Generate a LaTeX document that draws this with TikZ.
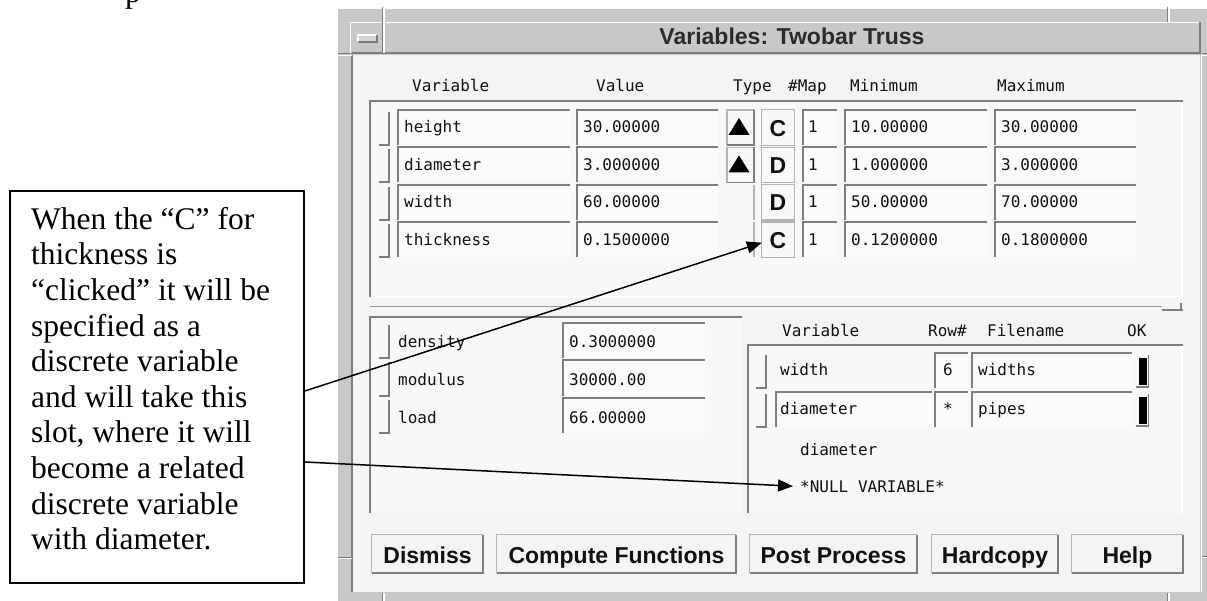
\documentclass[tikz,border=0pt]{standalone}
\usepackage{fontspec}
\setmainfont{Liberation Serif}
\setsansfont{Liberation Sans}
\setmonofont{DejaVu Sans Mono}
\usetikzlibrary{arrows.meta,calc}

\definecolor{framegray}{HTML}{C8C8C8}
\definecolor{facegray}{HTML}{F4F4F4}
\definecolor{wellwhite}{HTML}{FBFBFB}
\definecolor{shadow}{HTML}{7E7E7E}
\definecolor{softedge}{HTML}{B4B4B4}
\definecolor{ink}{HTML}{111111}
\definecolor{titleink}{HTML}{2B2B2B}

\begin{document}
\begin{tikzpicture}[x=1pt,y=-1pt,
  mono/.style={font=\ttfamily\fontsize{16}{16}\selectfont, text=ink, inner sep=0pt, anchor=base west},
  uilabel/.style={font=\sffamily\bfseries\fontsize{23}{23}\selectfont, text=ink, inner sep=0pt},
  sunken/.style={draw=shadow, line width=2pt},
  lightedge/.style={draw=softedge, line width=1.2pt},
  highlight/.style={draw=white, line width=1.2pt},
  toggle/.style={draw=shadow, line width=2pt},
  keycap/.style={uilabel, minimum width=32, minimum height=35, text height=17.2pt, text depth=0pt},
  pushbtn/.style={uilabel, fill=facegray, minimum height=38, text height=18.6pt, text depth=0pt},
  pointer/.style={draw=black, line width=1.5pt, -{Triangle[length=15pt,width=12pt]}},
  note/.style={draw=black, line width=1.8pt, inner sep=0pt, anchor=north west},
  notetext/.style={font=\fontsize{31.5}{35.6}\selectfont, align=left, inner sep=0pt, anchor=north west},
]
\useasboundingbox (0,0) rectangle (1207,601);
\fill[white] (0,0) rectangle (1207,601);

% last letter of the text line above
\node[font=\fontsize{32}{32}\selectfont, inner sep=0pt, anchor=base west] (above) at (125,3) {p};

% ---------- window frame ----------
\fill[framegray] (338,9) rectangle (1212,606);
\fill[facegray] (352,55) rectangle (1200,592);
\draw[shadow, line width=2pt] (352,592) -- (352,55);
\draw[highlight] (1201.5,55) -- (1201.5,592);
% title bar
\draw[highlight] (350,22.5) -- (1201,22.5);
\draw[highlight] (350.5,22) -- (350.5,55);
\draw[shadow, line width=2pt] (352,53) -- (1200,53) -- (1200,22);
\draw[shadow, line width=1pt] (382.5,7) -- (382.5,53);
\draw[highlight] (384,7) -- (384,53);
\draw[shadow, line width=1pt] (1167.5,7) -- (1167.5,22);
\draw[highlight] (1169,7) -- (1169,22);
% minimise button
\fill[framegray!80!white] (358,35) rectangle (377,42);
\draw[highlight] (358,42) -- (358,35) -- (377,35);
\draw[shadow, line width=1.2pt] (377,35) -- (377,42) -- (358,42);
% frame corner marks
\draw[shadow, line width=1pt] (338,54) -- (352,54);
\draw[highlight] (338,55.5) -- (352,55.5);
\draw[shadow, line width=1pt] (338,557) -- (352,557);
\draw[highlight] (338,558.5) -- (352,558.5);
\draw[shadow, line width=1pt] (1202,54) -- (1207,54);
\draw[highlight] (1202,55.5) -- (1207,55.5);
\draw[shadow, line width=1pt] (1202,556) -- (1207,556);
\draw[highlight] (1202,557.5) -- (1207,557.5);
\draw[shadow, line width=1pt] (382.5,593) -- (382.5,601);
\draw[highlight] (384,593) -- (384,601);
\draw[shadow, line width=1pt] (1167.5,593) -- (1167.5,601);
\draw[highlight] (1169,593) -- (1169,601);

\node[uilabel, text=titleink, anchor=base] (title) at (792,45) {Variables: Twobar Truss};

% ---------- design variables ----------
\node[mono] (hvar)  at (412,92)  {Variable};
\node[mono] (hval)  at (596,92)  {Value};
\node[mono] (htype) at (733,92)  {Type};
\node[mono] (hmap)  at (788,92)  {\#Map};
\node[mono] (hmin)  at (850,92)  {Minimum};
\node[mono] (hmax)  at (997,92)  {Maximum};

\fill[facegray!60!white] (370,101) rectangle (1182,297);
\draw[sunken] (370,297) -- (370,101) -- (1183,101);
\draw[highlight] (1182,102) -- (1182,297) -- (371,297);

\foreach \i/\nm/\val/\cd/\mn/\mx in {
    0/height/30.00000/C/10.00000/30.00000,
    1/diameter/3.000000/D/1.000000/3.000000,
    2/width/60.00000/D/50.00000/70.00000,
    3/thickness/0.1500000/C/0.1200000/0.1800000}{
  \pgfmathsetmacro\t{110+37.4*\i}
  \pgfmathsetmacro\b{\t+35}
  \draw[toggle] (389,\t+2) -- (389,\b) -- (379,\b);
  \fill[wellwhite] (398,\t) rectangle (570,\b);
  \draw[sunken] (398,\b) -- (398,\t) -- (570,\t);
  \node[mono] (name\i) at (404,\t+23) {\nm};
  \fill[wellwhite] (577,\t) rectangle (718,\b);
  \draw[sunken] (577,\b) -- (577,\t) -- (718,\t);
  \node[mono] (value\i) at (583,\t+23) {\val};
  \ifnum\i<2
    \draw[lightedge] (727,\t) rectangle (754,\b);
    \draw[shadow, line width=1.5pt] (727,\b) -- (754,\b) -- (754,\t);
    \fill[black] (739,\t+8) -- (749.5,\t+25) -- (728.5,\t+25) -- cycle;
  \else
    \draw[lightedge] (754,\t) -- (754,\b);
  \fi
  \node[keycap] (cd\i) at (778,\t+17.5) {\cd};
  \draw[lightedge] (cd\i.south west) rectangle (cd\i.north east);
  \fill[wellwhite] (803,\t) rectangle (837,\b);
  \draw[sunken] (803,\b) -- (803,\t) -- (837,\t);
  \node[mono] (map\i) at (808,\t+23) {1};
  \fill[wellwhite] (845,\t) rectangle (987,\b);
  \draw[sunken] (845,\b) -- (845,\t) -- (987,\t);
  \node[mono] (min\i) at (851,\t+23) {\mn};
  \fill[wellwhite] (995,\t) rectangle (1136,\b);
  \draw[sunken] (995,\b) -- (995,\t) -- (1136,\t);
  \node[mono] (max\i) at (1001,\t+23) {\mx};
}

% sash between the panes
\draw[shadow!80, line width=1.5pt] (370,306.5) -- (1162,306.5);
\draw[shadow, line width=2pt] (1162,310) -- (1183,310);
\draw[shadow, line width=1.5pt] (1181,303) -- (1181,311);

% ---------- constants ----------
\fill[facegray!60!white] (370,317) rectangle (742,513);
\draw[sunken] (370,513) -- (370,317) -- (742,317);
\foreach \i/\nm/\val in {0/density/0.3000000, 1/modulus/30000.00, 2/load/66.00000}{
  \pgfmathsetmacro\t{323+37.5*\i}
  \pgfmathsetmacro\b{\t+35}
  \draw[toggle] (389,\t+2) -- (389,\b) -- (379,\b);
  \node[mono] (cname\i) at (398,\t+25) {\nm};
  \fill[wellwhite] (563,\t) rectangle (705,\b);
  \draw[sunken] (563,\b) -- (563,\t) -- (705,\t);
  \node[mono] (cvalue\i) at (569,\t+25) {\val};
}

% ---------- discrete variable files ----------
\node[mono] (dvar)  at (782,337)  {Variable};
\node[mono] (drow)  at (928,337)  {Row\#};
\node[mono] (dfile) at (987,337)  {Filename};
\node[mono] (dok)   at (1127,337) {OK};

\fill[facegray!60!white] (748,345) rectangle (1182,513);
\draw[sunken] (748,513) -- (748,345) -- (1183,345);
\draw[highlight] (1182,346) -- (1182,513);

\foreach \i/\nm/\rw/\fn in {0/width/6/widths, 1/diameter/*/pipes}{
  \pgfmathsetmacro\t{353+39*\i}
  \pgfmathsetmacro\b{\t+35}
  \draw[toggle] (766,\t+2) -- (766,\b) -- (756,\b);
  \ifnum\i=1
    \fill[wellwhite] (776,\t) rectangle (932,\b);
    \draw[sunken] (776,\b) -- (776,\t) -- (932,\t);
  \fi
  \node[mono] (fname\i) at (780,\t+22.5) {\nm};
  \fill[wellwhite] (935,\t) rectangle (968,\b);
  \draw[sunken] (935,\b) -- (935,\t) -- (968,\t);
  \node[mono] (frow\i) at (943,\t+22.5) {\rw};
  \fill[wellwhite] (972,\t) rectangle (1132,\b);
  \draw[sunken] (972,\b) -- (972,\t) -- (1132,\t);
  \node[mono] (ffile\i) at (978,\t+22.5) {\fn};
  \fill[black] (1139,\t+5) rectangle (1147,\t+32);
  \draw[shadow, line width=1.5pt] (1136,\t+34) -- (1148.5,\t+34) -- (1148.5,\t+2);
}
\node[mono] (related) at (800,455) {diameter};
\node[mono] (nullvar) at (800,492) {*NULL VARIABLE*};

% ---------- command buttons ----------
\foreach \cx/\w/\lab/\nm in {427.5/111/Dismiss/dismiss,
    616.5/239/Compute Functions/compute,
    833.5/167/Post Process/post,
    995/126/Hardcopy/hardcopy,
    1127.5/111/Help/help}{
  \node[pushbtn, minimum width=\w] (b\nm) at (\cx,554) {\lab};
  \draw[lightedge] (b\nm.south west) -- (b\nm.north west) -- (b\nm.north east);
  \draw[shadow, line width=2.5pt] (b\nm.north east) -- (b\nm.south east) -- (b\nm.south west);
}

% ---------- explanatory note ----------
\node[note, minimum width=294, minimum height=392] (note) at (9,190) {};
\node[notetext] (notebody) at (31,207) {When the “C” for\\thickness is\\“clicked” it will be\\specified as a\\discrete variable\\and will take this\\slot, where it will\\become a related\\discrete variable\\with diameter.};

\draw[pointer] ($(note.north east)+(0,201)$) -- ([yshift=-3pt]cd3.west);
\draw[pointer] ($(note.north east)+(0,272)$) -- ([xshift=-7pt]nullvar.west);
\end{tikzpicture}
\end{document}
